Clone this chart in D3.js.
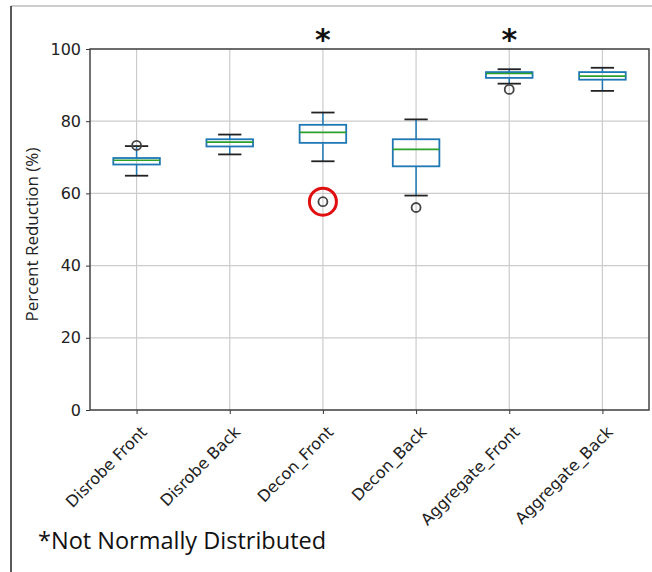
<!DOCTYPE html>
<html>
<head>
<meta charset="utf-8">
<script src="https://cdn.jsdelivr.net/npm/d3@7"></script>
<style>
  body { margin: 0; background: #fff; }
  svg { display: block; font-family: "DejaVu Sans", sans-serif; }
</style>
</head>
<body>
<svg width="652" height="572"></svg>
<script>
var width = 652,
    height = 572;

// data
var categories = ["Disrobe Front", "Disrobe Back", "Decon_Front", "Decon_Back", "Aggregate_Front", "Aggregate_Back"];
var whiskerLow = [64.9, 70.8, 68.9, 59.4, 90.4, 88.4];
var q1 = [68.0, 73.0, 74.0, 67.5, 92.0, 91.5];
var medians = [69.2, 74.2, 76.9, 72.2, 93.2, 92.5];
var q3 = [69.8, 75.0, 79.0, 75.0, 93.6, 93.6];
var whiskerHigh = [73.1, 76.3, 82.4, 80.5, 94.4, 94.8];
var outliers = [[73.3], [], [57.7], [56.1], [88.8], []];
var notNormal = ["Decon_Front", "Aggregate_Front"];
var highlighted = {cat: "Decon_Front", value: 57.7};
var yTicks = [0, 20, 40, 60, 80, 100];

var svg = d3.select("svg");

// outer frame
svg.append("line").attr("x1", 11).attr("y1", 6).attr("x2", width).attr("y2", 6)
    .attr("stroke", "#9a9a9a").attr("stroke-width", 1);
svg.append("line").attr("x1", 11).attr("y1", 6).attr("x2", 11).attr("y2", height)
    .attr("stroke", "#222").attr("stroke-width", 1.5);

var pLeft = 90, pRight = 649, pTop = 49, pBottom = 410;

var x = d3.scaleLinear().domain([0.5, categories.length + 0.5]).range([pLeft, pRight]);
var y = d3.scaleLinear().domain([0, 100]).range([pBottom, pTop]);
var xPos = function(i) { return x(i + 1); };

var chart = svg.append("g");

////////////////////////
// grid
////////////////////////

chart.selectAll(".hgrid")
    .data(yTicks)
    .enter()
    .append("line")
    .attr("x1", pLeft).attr("x2", pRight)
    .attr("y1", function(d) { return y(d); })
    .attr("y2", function(d) { return y(d); })
    .attr("stroke", "#cccccc")
    .attr("stroke-width", 1.2);

chart.selectAll(".vgrid")
    .data(categories)
    .enter()
    .append("line")
    .attr("x1", function(d, i) { return xPos(i); })
    .attr("x2", function(d, i) { return xPos(i); })
    .attr("y1", pTop).attr("y2", pBottom)
    .attr("stroke", "#cccccc")
    .attr("stroke-width", 1.2);

////////////////////////
// axes
////////////////////////

var yAxis = d3.axisLeft(y).tickValues(yTicks).tickSize(4).tickPadding(5);
chart.append("g")
    .attr("transform", "translate(" + pLeft + ",0)")
    .call(yAxis)
    .call(function(g) {
        g.select(".domain").remove();
        g.selectAll("line").attr("stroke", "#333");
        g.selectAll("text").attr("font-size", 16).attr("fill", "#222")
            .attr("font-family", "DejaVu Sans, sans-serif");
    });

var xAxis = d3.axisBottom(x).tickValues(d3.range(1, categories.length + 1))
    .tickSize(4).tickFormat(function(d) { return categories[d - 1]; });
chart.append("g")
    .attr("transform", "translate(0," + pBottom + ")")
    .call(xAxis)
    .call(function(g) {
        g.select(".domain").remove();
        g.selectAll("line").attr("stroke", "#333");
        g.selectAll("text")
            .attr("font-size", 16)
            .attr("fill", "#222")
            .attr("font-family", "DejaVu Sans, sans-serif")
            .attr("text-anchor", "end")
            .attr("dy", "0.35em")
            .attr("transform", "translate(7,19) rotate(-45)")
            .attr("x", 0).attr("y", 0);
    });

chart.append("rect")
    .attr("x", pLeft).attr("y", pTop)
    .attr("width", pRight - pLeft).attr("height", pBottom - pTop)
    .attr("fill", "none")
    .attr("stroke", "#444")
    .attr("stroke-width", 1.5);

////////////////////////
// boxes
////////////////////////

var boxW = (x(1.25) - x(1)) * 2;
var capW = boxW / 2;

var boxes = chart.selectAll(".box")
    .data(categories)
    .enter()
    .append("g");

boxes.append("line")
    .attr("x1", function(d, i) { return xPos(i); })
    .attr("x2", function(d, i) { return xPos(i); })
    .attr("y1", function(d, i) { return y(whiskerLow[i]); })
    .attr("y2", function(d, i) { return y(q1[i]); })
    .attr("stroke", "#1f77b4").attr("stroke-width", 1.5);

boxes.append("line")
    .attr("x1", function(d, i) { return xPos(i); })
    .attr("x2", function(d, i) { return xPos(i); })
    .attr("y1", function(d, i) { return y(q3[i]); })
    .attr("y2", function(d, i) { return y(whiskerHigh[i]); })
    .attr("stroke", "#1f77b4").attr("stroke-width", 1.5);

[whiskerLow, whiskerHigh].forEach(function(arr) {
    boxes.append("line")
        .attr("x1", function(d, i) { return xPos(i) - capW / 2; })
        .attr("x2", function(d, i) { return xPos(i) + capW / 2; })
        .attr("y1", function(d, i) { return y(arr[i]); })
        .attr("y2", function(d, i) { return y(arr[i]); })
        .attr("stroke", "#222").attr("stroke-width", 1.8);
});

boxes.append("rect")
    .attr("x", function(d, i) { return xPos(i) - boxW / 2; })
    .attr("y", function(d, i) { return y(q3[i]); })
    .attr("width", boxW)
    .attr("height", function(d, i) { return y(q1[i]) - y(q3[i]); })
    .attr("fill", "none")
    .attr("stroke", "#1f77b4").attr("stroke-width", 1.8);

boxes.append("line")
    .attr("x1", function(d, i) { return xPos(i) - boxW / 2; })
    .attr("x2", function(d, i) { return xPos(i) + boxW / 2; })
    .attr("y1", function(d, i) { return y(medians[i]); })
    .attr("y2", function(d, i) { return y(medians[i]); })
    .attr("stroke", "#2ca02c").attr("stroke-width", 1.6);

boxes.each(function(d, i) {
    d3.select(this).selectAll(".flier")
        .data(outliers[i])
        .enter()
        .append("circle")
        .attr("cx", xPos(i))
        .attr("cy", function(v) { return y(v); })
        .attr("r", 4.5)
        .attr("fill", "none")
        .attr("stroke", "#444")
        .attr("stroke-width", 1.8);
});

// red highlight ring
var hi = categories.indexOf(highlighted.cat);
chart.append("circle")
    .attr("cx", xPos(hi))
    .attr("cy", y(highlighted.value))
    .attr("r", 13.5)
    .attr("fill", "none")
    .attr("stroke", "#e01010")
    .attr("stroke-width", 3);

////////////////////////
// annotations
////////////////////////

chart.selectAll(".star")
    .data(notNormal)
    .enter()
    .append("text")
    .attr("x", function(d) { return xPos(categories.indexOf(d)); })
    .attr("y", 50)
    .attr("text-anchor", "middle")
    .attr("font-size", 30)
    .attr("font-weight", "bold")
    .attr("fill", "#111")
    .text("*");

svg.append("text")
    .attr("transform", "translate(38," + ((pTop + pBottom) / 2 + 5) + ") rotate(-90)")
    .attr("text-anchor", "middle")
    .attr("font-size", 17)
    .attr("fill", "#222")
    .attr("font-family", "Open Sans, sans-serif")
    .text("Percent Reduction (%)");

svg.append("text")
    .attr("x", 38)
    .attr("y", 549)
    .attr("font-size", 23.5)
    .attr("fill", "#111")
    .attr("font-family", "Open Sans, sans-serif")
    .text("*Not Normally Distributed");
</script>
</body>
</html>
